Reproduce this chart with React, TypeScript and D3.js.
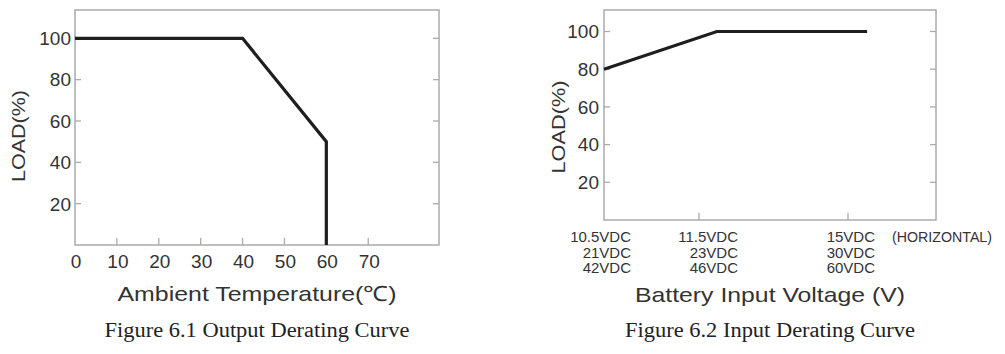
import React from "react";
import * as d3 from "d3";

// ---- Figure 6.1 data ----
const tempX = [0, 40, 60, 60];
const tempLoad = [100, 100, 50, 0];
const tempTicks = [0, 10, 20, 30, 40, 50, 60, 70];
const loadTicks = [20, 40, 60, 80, 100];

// ---- Figure 6.2 data ----
const voltX = [10.5, 11.92, 15.45];
const voltLoad = [80, 100, 100];
const voltTicks = [10.5, 11.5, 15];
const voltTickLabels = [
  ["10.5VDC", "21VDC", "42VDC"],
  ["11.5VDC", "23VDC", "46VDC"],
  ["15VDC", "30VDC", "60VDC"],
];

const SANS = "'Liberation Sans', Arial, sans-serif";
const SERIF = "'Liberation Serif', 'Times New Roman', serif";
const BORDER = "#ababab";
const TEXT = "#333";
const CAPTION = "#222";
const LINE = "#1e1e1e";

export default function App() {
  // left chart scales
  const lx = d3.scaleLinear().domain([0, 86.9]).range([75, 439]);
  const ly = d3.scaleLinear().domain([0, 113.7]).range([245, 10]);
  const lPath = d3
    .line<number>()
    .x((_, i) => lx(tempX[i]))
    .y((d) => ly(d))(tempLoad) as string;

  // right chart scales (piecewise horizontal positions)
  const rx = d3.scaleLinear().domain([10.5, 11.5, 15, 17.07]).range([604, 699, 848, 936]);
  const ry = d3.scaleLinear().domain([0, 111.4]).range([220, 10]);
  const rPath = d3
    .line<number>()
    .x((_, i) => rx(voltX[i]))
    .y((d) => ry(d))(voltLoad) as string;

  const [lx0, lx1] = lx.range();
  const [ly0, ly1] = ly.range();
  const rr = rx.range();
  const rx0 = rr[0];
  const rx1 = rr[rr.length - 1];
  const [ry0, ry1] = ry.range();

  return (
    <svg width={1005} height={354} style={{ position: "absolute", left: 0, top: 0, background: "#fff" }}>
      {/* ---------- LEFT CHART ---------- */}
      <rect x={lx0} y={ly1} width={lx1 - lx0} height={ly0 - ly1} fill="none" stroke={BORDER} strokeWidth={1.5} />
      {loadTicks.map((t) => (
        <g key={"lyt" + t}>
          <line x1={lx0} x2={lx0 + 6} y1={ly(t)} y2={ly(t)} stroke={BORDER} strokeWidth={1.3} />
          <line x1={lx1 - 6} x2={lx1} y1={ly(t)} y2={ly(t)} stroke={BORDER} strokeWidth={1.3} />
          <text x={lx0 - 4} y={ly(t)} dy="0.36em" textAnchor="end" fontFamily={SANS} fontSize={19} fill={TEXT}>
            {t}
          </text>
        </g>
      ))}
      {tempTicks.map((t) => (
        <g key={"lxt" + t}>
          {t > 0 && <line x1={lx(t)} x2={lx(t)} y1={ly0} y2={ly0 - 7} stroke={BORDER} strokeWidth={1.3} />}
          <text x={lx(t) + 1} y={ly0 + 23} textAnchor="middle" fontFamily={SANS} fontSize={19} fill={TEXT}>
            {t}
          </text>
        </g>
      ))}
      <path d={lPath} fill="none" stroke={LINE} strokeWidth={3.2} strokeLinejoin="miter" />
      <text
        transform={`translate(25,136) rotate(-90)`}
        textAnchor="middle"
        fontFamily={SANS}
        fontSize={19}
        fill={TEXT}
        textLength={92}
        lengthAdjust="spacingAndGlyphs"
      >
        LOAD(%)
      </text>
      <text x={257} y={301} textAnchor="middle" fontFamily={SANS} fontSize={21} fill={TEXT} textLength={279} lengthAdjust="spacingAndGlyphs">
        Ambient Temperature(℃)
      </text>
      <text x={257} y={337} textAnchor="middle" fontFamily={SERIF} fontSize={20.5} fill={CAPTION} textLength={305} lengthAdjust="spacingAndGlyphs">
        Figure 6.1 Output Derating Curve
      </text>

      {/* ---------- RIGHT CHART ---------- */}
      <rect x={rx0} y={ry1} width={rx1 - rx0} height={ry0 - ry1} fill="none" stroke={BORDER} strokeWidth={1.5} />
      {loadTicks.map((t) => (
        <g key={"ryt" + t}>
          <line x1={rx0} x2={rx0 + 6} y1={ry(t)} y2={ry(t)} stroke={BORDER} strokeWidth={1.3} />
          <line x1={rx1 - 6} x2={rx1} y1={ry(t)} y2={ry(t)} stroke={BORDER} strokeWidth={1.3} />
          <text x={rx0 - 5} y={ry(t)} dy="0.36em" textAnchor="end" fontFamily={SANS} fontSize={19} fill={TEXT}>
            {t}
          </text>
        </g>
      ))}
      {voltTicks.map((t, i) => (
        <g key={"rxt" + t}>
          {i > 0 && <line x1={rx(t)} x2={rx(t)} y1={ry0} y2={ry0 - 7} stroke={BORDER} strokeWidth={1.3} />}
          {voltTickLabels[i].map((s, j) => (
            <text
              key={s}
              x={rx(t) + (i === 1 ? 39 : 27)}
              y={ry0 + 22 + j * 15.5}
              textAnchor="end"
              fontFamily={SANS}
              fontSize={15}
              fill={TEXT}
            >
              {s}
            </text>
          ))}
        </g>
      ))}
      <text x={rx(15) + 44} y={ry0 + 22} textAnchor="start" fontFamily={SANS} fontSize={15} fill={TEXT} textLength={100} lengthAdjust="spacingAndGlyphs">
        (HORIZONTAL)
      </text>
      <path d={rPath} fill="none" stroke={LINE} strokeWidth={3.2} strokeLinejoin="miter" />
      <text
        transform={`translate(565,127) rotate(-90)`}
        textAnchor="middle"
        fontFamily={SANS}
        fontSize={19}
        fill={TEXT}
        textLength={93}
        lengthAdjust="spacingAndGlyphs"
      >
        LOAD(%)
      </text>
      <text x={770} y={302} textAnchor="middle" fontFamily={SANS} fontSize={21} fill={TEXT} textLength={270} lengthAdjust="spacingAndGlyphs">
        Battery Input Voltage (V)
      </text>
      <text x={770} y={337} textAnchor="middle" fontFamily={SERIF} fontSize={20.5} fill={CAPTION} textLength={290} lengthAdjust="spacingAndGlyphs">
        Figure 6.2 Input Derating Curve
      </text>
    </svg>
  );
}
